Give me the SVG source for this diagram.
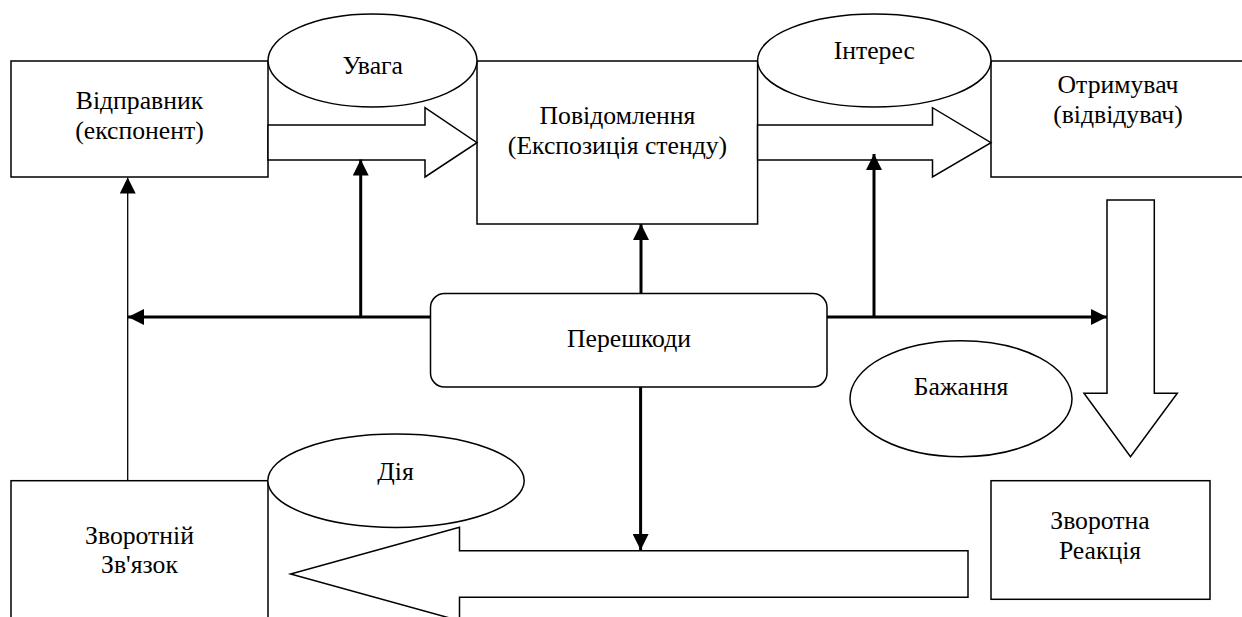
<svg xmlns="http://www.w3.org/2000/svg" width="1242" height="617" viewBox="0 0 1242 617">
<style>
  .box{fill:#fff;stroke:#000;stroke-width:1.5}
  .ell{fill:#fff;stroke:#000;stroke-width:1.5}
  .big{fill:#fff;stroke:#000;stroke-width:1.5;stroke-linejoin:miter}
  .thick{fill:none;stroke:#000;stroke-width:3}
  .thin{fill:none;stroke:#000;stroke-width:1.3}
  .t{font-family:'Liberation Serif','Times New Roman',serif;font-size:25.7px;fill:#000;text-anchor:middle}
</style>
<defs>
  <marker id="ah" markerUnits="userSpaceOnUse" markerWidth="16" markerHeight="16" viewBox="0 0 16 16" refX="16" refY="8" orient="auto">
    <path d="M0,0 L16,8 L0,16 z" fill="#000"/>
  </marker>
</defs>
<rect width="1242" height="617" fill="#fff"/>

<g id="sender"><rect class="box" x="11" y="61" width="257" height="116"/>
<text class="t" x="139.5" y="109">Відправник</text><text class="t" x="139.5" y="139">(експонент)</text></g>

<g id="message"><rect class="box" x="477" y="61" width="280.6" height="163"/>
<text class="t" x="617.5" y="124">Повідомлення</text><text class="t" x="617.5" y="154">(Експозиція стенду)</text></g>

<g id="receiver"><rect class="box" x="991" y="61" width="262" height="116"/>
<text class="t" x="1118" y="93">Отримувач</text><text class="t" x="1118" y="123">(відвідувач)</text></g>

<g id="feedback"><rect class="box" x="11" y="480.7" width="257" height="160"/>
<text class="t" x="139.5" y="544">Зворотній</text><text class="t" x="139.5" y="573">Зв'язок</text></g>

<g id="reaction"><rect class="box" x="991" y="480.7" width="219" height="118.6"/>
<text class="t" x="1100" y="529">Зворотна</text><text class="t" x="1100" y="559">Реакція</text></g>

<g id="obstacles"><rect class="box" x="430.5" y="293.5" width="396.5" height="93.5" rx="14" ry="14"/>
<text class="t" x="629" y="347">Перешкоди</text></g>

<g id="connectors">
  <polygon id="arrow-attention" class="big" points="268,125 425,125 425,107.7 477,142.7 425,177 425,160 268,160"/>
  <polygon id="arrow-interest" class="big" points="757.6,125 932.5,125 932.5,107.7 991,142.7 932.5,177 932.5,160 757.6,160"/>
  <polygon id="arrow-desire" class="big" points="1107,200 1154.3,200 1154.3,393.3 1177.3,393.3 1130.5,456.7 1084,393.3 1107,393.3"/>
  <polygon id="arrow-action" class="big" points="968,550.7 459.5,550.7 459.5,527.3 290.6,574 459.5,620.7 459.5,597.3 968,597.3"/>
  <line class="thick" x1="430.5" y1="317" x2="128" y2="317" marker-end="url(#ah)"/>
  <line class="thick" x1="827" y1="317" x2="1107" y2="317" marker-end="url(#ah)"/>
  <line class="thick" x1="360.7" y1="317" x2="360.7" y2="159.5" marker-end="url(#ah)"/>
  <line class="thick" x1="874" y1="317" x2="874" y2="154" marker-end="url(#ah)"/>
  <line class="thick" x1="641" y1="293.5" x2="641" y2="224" marker-end="url(#ah)"/>
  <line class="thick" x1="640.6" y1="387" x2="640.6" y2="550" marker-end="url(#ah)"/>
  <line class="thin" x1="127.7" y1="480.7" x2="127.7" y2="177.5" marker-end="url(#ah)"/>
</g>

<g id="attention"><ellipse class="ell" cx="372.5" cy="60.5" rx="104.5" ry="46.5"/><text class="t" x="372.8" y="74">Увага</text></g>
<g id="interest"><ellipse class="ell" cx="874.3" cy="60.5" rx="116.7" ry="46.5"/><text class="t" x="874.3" y="59.3">Інтерес</text></g>
<g id="desire"><ellipse class="ell" cx="961" cy="398.7" rx="111" ry="58"/><text class="t" x="961" y="395">Бажання</text></g>
<g id="action"><ellipse class="ell" cx="396" cy="480.7" rx="128.2" ry="46.7"/><text class="t" x="395.5" y="480">Дія</text></g>
</svg>
